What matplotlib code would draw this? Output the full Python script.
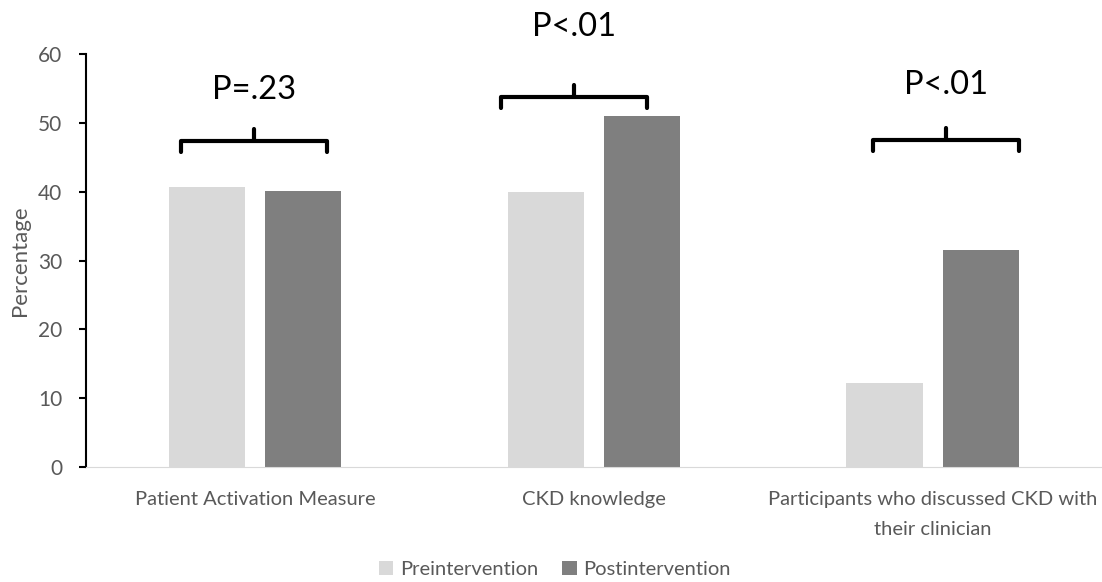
import matplotlib
matplotlib.use("Agg")
from matplotlib import pyplot as plt
import numpy as np

categories = ["Patient Activation Measure", "CKD knowledge",
              "Participants who discussed CKD with\ntheir clinician"]
pre = [40.7, 40.0, 12.2]
post = [40.1, 51.0, 31.5]
pvalues = ["P=.23", "P<.01", "P<.01"]

plt.rcParams['font.family'] = ['Lato', 'DejaVu Sans']
fig = plt.figure(figsize=(11.02, 5.82), dpi=100)
ax = fig.add_axes([0.078, 0.1976, 0.922, 0.7094])

x = np.arange(len(categories))
w = 0.225
off = 0.142
ax.bar(x - off, pre, w, color='#d9d9d9', label='Preintervention')
ax.bar(x + off, post, w, color='#7f7f7f', label='Postintervention')

ax.set_xlim(-0.5, 2.5)
ax.set_ylim(0, 60)
ax.set_yticks(range(0, 61, 10))
ax.set_xticks(x)
ax.set_xticklabels(categories, fontsize=14.5, color='#595959', linespacing=1.95)
ax.tick_params(axis='y', labelsize=15, labelcolor='#595959', color='black',
               length=5, width=1.5, direction='out', pad=12)
ax.tick_params(axis='x', length=0, pad=17)
ax.set_ylabel('Percentage', fontsize=16, color='#595959', labelpad=6)
for s in ['top', 'right']:
    ax.spines[s].set_visible(False)
ax.spines['left'].set_linewidth(1.5)
ax.spines['bottom'].set_color('#d9d9d9')

# significance brackets: (left, right, y of bar, text y)
brackets = [(-0.218, 0.212, 47.4, 54.8), (-0.274, 0.156, 53.8, 64.0), (-0.177, 0.254, 47.5, 55.5)]
for i, (l, r, yb, yt) in enumerate(brackets):
    x0, x1 = i + l, i + r
    xm = (x0 + x1) / 2
    ax.plot([x0, x0, x1, x1], [yb - 1.6, yb, yb, yb - 1.6], color='black', lw=3,
            solid_capstyle='round', solid_joinstyle='round', clip_on=False)
    ax.plot([xm, xm], [yb, yb + 1.7], color='black', lw=3, solid_capstyle='round', clip_on=False)
    ax.text(xm, yt, pvalues[i], ha='center', va='center', fontsize=23.5, clip_on=False)

fig.legend(loc='lower center', bbox_to_anchor=(555 / 1102, -0.024), ncol=2, frameon=False,
           fontsize=14.5, handlelength=0.7, handleheight=0.7, columnspacing=1.2,
           handletextpad=0.35, labelcolor='#595959')

plt.savefig('out.png', dpi=100)
